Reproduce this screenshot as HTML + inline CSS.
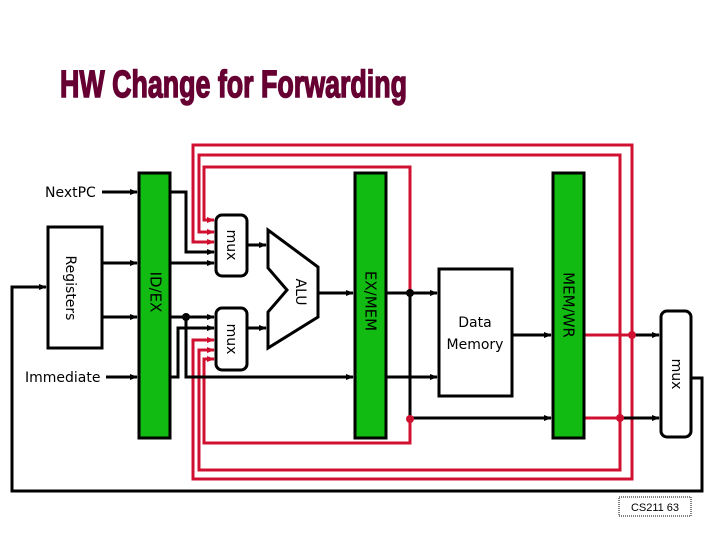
<!DOCTYPE html>
<html><head><meta charset="utf-8"><style>html,body{margin:0;padding:0;background:#fff}svg{display:block}</style></head>
<body>
<svg width="720" height="540" viewBox="0 0 720 540" xmlns="http://www.w3.org/2000/svg" font-family="Liberation Sans, sans-serif">
<defs>
<marker id="a" markerWidth="8" markerHeight="8" refX="7" refY="4" orient="auto" markerUnits="userSpaceOnUse"><path d="M0,1 L8,4 L0,7z" fill="#000"/></marker>
<marker id="r" markerWidth="8" markerHeight="8" refX="7" refY="4" orient="auto" markerUnits="userSpaceOnUse"><path d="M0,1 L8,4 L0,7z" fill="#d01030"/></marker>
</defs>
<text x="60" y="97" font-size="38" font-weight="bold" fill="#660033" textLength="347" lengthAdjust="spacingAndGlyphs" stroke="#660033" stroke-width="1.5">HW Change for Forwarding</text>

<!-- red forwarding lines -->
<g fill="none" stroke="#d01030" stroke-width="3">
<path d="M632,335 V145 H193 V242 H214" marker-end="url(#r)"/>
<path d="M620,418 V155 H199 V232 H214" marker-end="url(#r)"/>
<path d="M410,293 V167 H204 V220 H214" marker-end="url(#r)"/>
<path d="M632,335 V479 H193 V340 H214" marker-end="url(#r)"/>
<path d="M620,418 V470 H199 V350 H214" marker-end="url(#r)"/>
<path d="M410,419 V443 H204 V359 H214" marker-end="url(#r)"/>
<path d="M584,335 H632"/>
<path d="M584,418 H620"/>
</g>

<!-- black wires -->
<g fill="none" stroke="#000" stroke-width="3">
<path d="M102,192 H137" marker-end="url(#a)"/>
<path d="M106,377 H137" marker-end="url(#a)"/>
<path d="M102,263 H137" marker-end="url(#a)"/>
<path d="M102,317 H137" marker-end="url(#a)"/>
<path d="M170,192 H186 V252 H214" marker-end="url(#a)"/>
<path d="M170,263 H214" marker-end="url(#a)"/>
<path d="M170,317 H214" marker-end="url(#a)"/>
<path d="M186,317 V377 H353" marker-end="url(#a)"/>
<path d="M170,377 H178 V328 H214" marker-end="url(#a)"/>
<path d="M247,245 H266" marker-end="url(#a)"/>
<path d="M247,328 H266" marker-end="url(#a)"/>
<path d="M318,293 H353" marker-end="url(#a)"/>
<path d="M386,293 H437" marker-end="url(#a)"/>
<path d="M386,377 H437" marker-end="url(#a)"/>
<path d="M410,293 V418 H551" marker-end="url(#a)"/>
<path d="M512,335 H551" marker-end="url(#a)"/>
<path d="M632,335 H659" marker-end="url(#a)"/>
<path d="M620,418 H659" marker-end="url(#a)"/>
<path d="M691,378 H702 V491 H12 V287 H46" marker-end="url(#a)"/>
</g>
<circle cx="186" cy="317" r="4" fill="#000"/>
<circle cx="410" cy="293" r="4" fill="#000"/>
<circle cx="410" cy="419" r="4" fill="#d01030"/>
<circle cx="632" cy="335" r="4" fill="#d01030"/>
<circle cx="620" cy="418" r="4" fill="#d01030"/>

<!-- boxes -->
<g stroke="#000" stroke-width="3">
<rect x="48" y="227" width="54" height="121" fill="#fff"/>
<rect x="139" y="173" width="31" height="265" fill="#11bb11"/>
<rect x="355" y="173" width="31" height="265" fill="#11bb11"/>
<rect x="553" y="173" width="31" height="265" fill="#11bb11"/>
<rect x="216" y="215" width="31" height="61" rx="6" fill="#fff"/>
<rect x="216" y="308" width="31" height="62" rx="6" fill="#fff"/>
<rect x="661" y="311" width="30" height="126" rx="6" fill="#fff"/>
<rect x="439" y="269" width="73" height="127" fill="#fff"/>
<polygon points="268,230 318,267 318,317 268,348 268,312 287,290 268,268" fill="#fff"/>
</g>

<g font-family="DejaVu Sans, sans-serif" font-size="14" fill="#000">
<text x="45" y="197">NextPC</text>
<text x="25" y="382">Immediate</text>
<text x="475" y="327" text-anchor="middle">Data</text>
<text x="475" y="349" text-anchor="middle">Memory</text>
<text transform="translate(70,288) rotate(90)" text-anchor="middle" dominant-baseline="middle">Registers</text>
<text transform="translate(155,292) rotate(90)" text-anchor="middle" dominant-baseline="middle" font-size="15">ID/EX</text>
<text transform="translate(370,301) rotate(90)" text-anchor="middle" dominant-baseline="middle" font-size="15">EX/MEM</text>
<text transform="translate(568,305) rotate(90)" text-anchor="middle" dominant-baseline="middle" font-size="15">MEM/WR</text>
<text transform="translate(231,245) rotate(90)" text-anchor="middle" dominant-baseline="middle">mux</text>
<text transform="translate(231,339) rotate(90)" text-anchor="middle" dominant-baseline="middle">mux</text>
<text transform="translate(676,374) rotate(90)" text-anchor="middle" dominant-baseline="middle">mux</text>
<text transform="translate(300,292) rotate(90)" text-anchor="middle" dominant-baseline="middle">ALU</text>
</g>

<rect x="619" y="497" width="72" height="19" fill="#fff" stroke="#000" stroke-width="1" stroke-dasharray="1,1"/>
<text x="655" y="511" font-size="11" text-anchor="middle">CS211  63</text>
</svg>
</body></html>
